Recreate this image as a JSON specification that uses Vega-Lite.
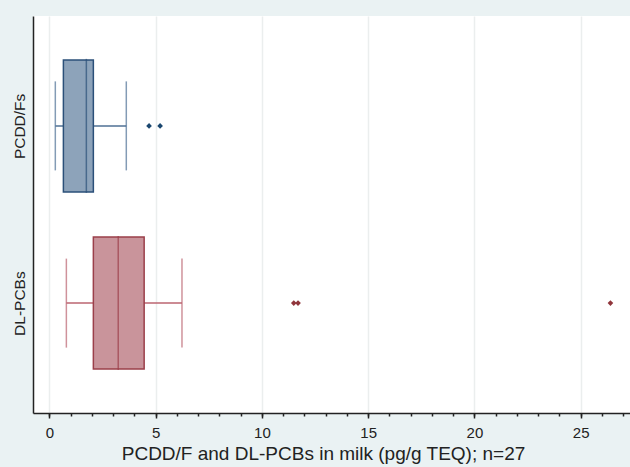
{
  "$schema": "https://vega.github.io/schema/vega-lite/v6.json",
  "autosize": "none",
  "width": 597,
  "height": 397,
  "padding": {"left": 33, "top": 16, "right": 0, "bottom": 54},
  "background": "#EAF2F3",
  "view": {"fill": "white", "stroke": null},
  "config": {"font": "Liberation Sans"},
  "datasets": {
    "boxes": [
      {"group": "PCDD/Fs", "lo": 0.28, "q1": 0.66, "med": 1.74, "q3": 2.07, "hi": 3.62},
      {"group": "DL-PCBs", "lo": 0.8, "q1": 2.07, "med": 3.24, "q3": 4.46, "hi": 6.24}
    ],
    "outliers": [
      {"group": "PCDD/Fs", "value": 4.69},
      {"group": "PCDD/Fs", "value": 5.21},
      {"group": "DL-PCBs", "value": 11.5},
      {"group": "DL-PCBs", "value": 11.7},
      {"group": "DL-PCBs", "value": 26.4}
    ]
  },
  "resolve": {"scale": {"color": "independent", "stroke": "independent"}, "axis": {"x": "independent"}},
  "layer": [
    {
      "data": {"name": "boxes"},
      "mark": {"type": "rule", "strokeWidth": 1.5},
      "encoding": {
        "x": {"field": "lo", "type": "quantitative", "scale": {"domain": [-0.77, 27.32], "nice": false, "zero": false},
          "axis": {"orient": "bottom", "values": [0, 5, 10, 15, 20, 25], "tickSize": 5, "tickWidth": 1.5, "tickColor": "#222", "domainColor": "#222", "domainWidth": 1.5, "grid": true, "gridColor": "#EBEEEE", "gridWidth": 1.5, "labelFontSize": 15, "labelColor": "#222", "labelPadding": 7, "title": "PCDD/F and DL-PCBs in milk (pg/g TEQ); n=27", "titleFontSize": 19, "titleFontWeight": "normal", "titleColor": "#222", "titlePadding": 4, "titleX": 290}},
        "x2": {"field": "hi"},
        "y": {"field": "group", "type": "nominal", "sort": ["PCDD/Fs", "DL-PCBs"], "scale": {"type": "point", "padding": 0.62},
          "axis": {"labelAngle": 270, "labelAlign": "center", "labelBaseline": "bottom", "ticks": false, "tickSize": 0, "domainColor": "#222", "domainWidth": 1.5, "grid": false, "title": null, "labelFontSize": 15.5, "labelColor": "#222", "labelPadding": 6}},
        "color": {"field": "group", "type": "nominal", "legend": null, "scale": {"domain": ["PCDD/Fs", "DL-PCBs"], "range": ["#4f7195", "#bb6470"]}}
      }
    },
    {
      "data": {"name": "boxes"},
      "mark": {"type": "tick", "orient": "vertical", "size": 89, "thickness": 1.5},
      "encoding": {
        "x": {"field": "lo", "type": "quantitative",
          "axis": {"orient": "bottom", "values": [0, 1, 2, 3, 4, 5, 6, 7, 8, 9, 10, 11, 12, 13, 14, 15, 16, 17, 18, 19, 20, 21, 22, 23, 24, 25, 26, 27], "tickSize": 3, "tickWidth": 1.5, "tickColor": "#222", "labels": false, "domain": false, "grid": false, "title": null}},
        "y": {"field": "group", "type": "nominal", "sort": ["PCDD/Fs", "DL-PCBs"]},
        "color": {"field": "group", "type": "nominal", "legend": null, "scale": {"domain": ["PCDD/Fs", "DL-PCBs"], "range": ["#4f7195", "#bb6470"]}}
      }
    },
    {
      "data": {"name": "boxes"},
      "mark": {"type": "tick", "orient": "vertical", "size": 89, "thickness": 1.5},
      "encoding": {
        "x": {"field": "hi", "type": "quantitative", "axis": null},
        "y": {"field": "group", "type": "nominal", "sort": ["PCDD/Fs", "DL-PCBs"]},
        "color": {"field": "group", "type": "nominal", "legend": null, "scale": {"domain": ["PCDD/Fs", "DL-PCBs"], "range": ["#4f7195", "#bb6470"]}}
      }
    },
    {
      "data": {"name": "boxes"},
      "mark": {"type": "bar", "size": 132, "strokeWidth": 1.5, "opacity": 1},
      "encoding": {
        "x": {"field": "q1", "type": "quantitative", "axis": null},
        "x2": {"field": "q3"},
        "y": {"field": "group", "type": "nominal", "sort": ["PCDD/Fs", "DL-PCBs"]},
        "fill": {"field": "group", "type": "nominal", "legend": null, "scale": {"domain": ["PCDD/Fs", "DL-PCBs"], "range": ["#8da3ba", "#c9949b"]}},
        "stroke": {"field": "group", "type": "nominal", "legend": null, "scale": {"domain": ["PCDD/Fs", "DL-PCBs"], "range": ["#2b5079", "#9b3f4a"]}}
      }
    },
    {
      "data": {"name": "boxes"},
      "mark": {"type": "tick", "orient": "vertical", "size": 134, "thickness": 1.5},
      "encoding": {
        "x": {"field": "med", "type": "quantitative", "axis": null},
        "y": {"field": "group", "type": "nominal", "sort": ["PCDD/Fs", "DL-PCBs"]},
        "color": {"field": "group", "type": "nominal", "legend": null, "scale": {"domain": ["PCDD/Fs", "DL-PCBs"], "range": ["#2b5079", "#9b3f4a"]}}
      }
    },
    {
      "data": {"name": "outliers"},
      "mark": {"type": "point", "shape": "diamond", "filled": true, "size": 32, "opacity": 1},
      "encoding": {
        "x": {"field": "value", "type": "quantitative", "axis": null},
        "y": {"field": "group", "type": "nominal", "sort": ["PCDD/Fs", "DL-PCBs"]},
        "color": {"field": "group", "type": "nominal", "legend": null, "scale": {"domain": ["PCDD/Fs", "DL-PCBs"], "range": ["#1a476f", "#90353b"]}}
      }
    }
  ]
}
